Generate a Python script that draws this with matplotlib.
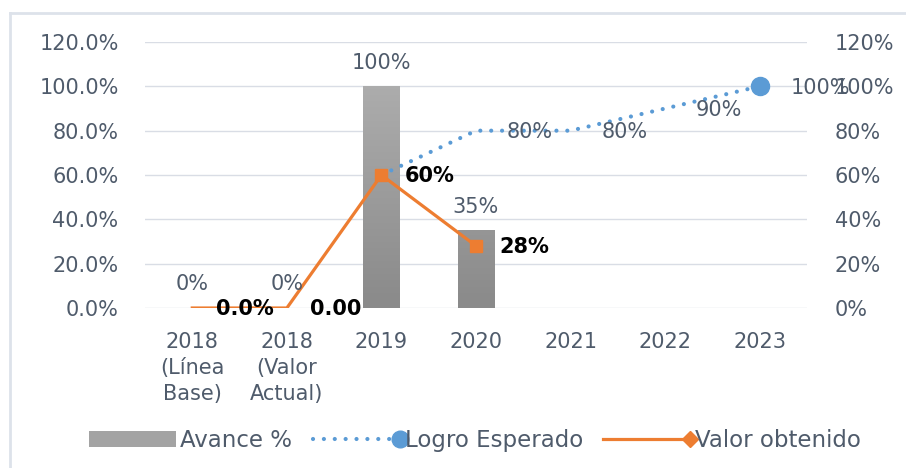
import numpy as np
import matplotlib.pyplot as plt
from matplotlib.colors import LinearSegmentedColormap
from matplotlib.legend_handler import HandlerLine2D
from matplotlib.lines import Line2D
from matplotlib.patches import Patch
from matplotlib.ticker import PercentFormatter

# data
categories = ['2018\n(Línea\nBase)', '2018\n(Valor\nActual)', '2019', '2020', '2021', '2022', '2023']
avance = [0.0, 0.0, 1.00, 0.35]
avance_labels = ['0%', '0%', '100%', '35%']
logro_idx = [2, 3, 4, 5, 6]
logro = [0.60, 0.80, 0.80, 0.90, 1.00]
logro_labels = ['', '80%', '80%', '90%', '100%']
valor = [0.0, 0.0, 0.60, 0.28]
valor_labels = ['0.0%', '0.00', '60%', '28%']

txt = '#4f5b6b'
blue = '#5b9bd5'
orange = '#ed7d31'
plt.rcParams['font.family'] = 'DejaVu Sans'
plt.rcParams['font.size'] = 15


class EndMarker(HandlerLine2D):
    # only mark the right end of the legend line
    def create_artists(self, *args, **kwargs):
        arts = super().create_artists(*args, **kwargs)
        for a in arts:
            a.set_markevery([len(a.get_xdata()) - 1])
        return arts


fig = plt.figure(figsize=(9.06, 4.68), dpi=100)
ax = fig.add_axes([145 / 906, 1 - 308 / 468, 662 / 906, 266 / 468])
ax2 = ax.twinx()

x = np.arange(len(categories))
ymax = 1.2

# bars with vertical gradient
cmap = LinearSegmentedColormap.from_list('g', ['#8a8a8a', '#b3b3b3'])
bars = ax.bar(x[:len(avance)], avance, width=0.39, color='none', zorder=2)
grad = np.linspace(0, 1, 100).reshape(-1, 1)
for b in bars:
    if b.get_height() <= 0:
        continue
    im = ax.imshow(grad, cmap=cmap, origin='lower', aspect='auto', zorder=2,
                   extent=[b.get_x(), b.get_x() + b.get_width(), 0, ymax])
    im.set_clip_path(b)
for i, v in enumerate(avance):
    ax.annotate(avance_labels[i], (x[i], v), xytext=(0, 17), textcoords='offset points',
                ha='center', va='center', color=txt, fontsize=15, zorder=5)

# logro esperado
ax.plot(x[logro_idx], logro, color=blue, lw=3, linestyle=(0, (0.01, 2.6)),
        dash_capstyle='round', zorder=3)
ax.plot(x[logro_idx[-1]], logro[-1], 'o', color=blue, ms=13, zorder=4)
for i, v, s in zip(logro_idx, logro, logro_labels):
    if s:
        ax.annotate(s, (x[i], v), xytext=(22, -1), textcoords='offset points',
                    ha='left', va='center', color=txt, fontsize=15, zorder=5)

# valor obtenido
ax.plot(x[:len(valor)], valor, color=orange, lw=2.3, zorder=4)
ax.plot(x[2:len(valor)], valor[2:], 's', color=orange, ms=8, zorder=4)
for i, v in enumerate(valor):
    ax.annotate(valor_labels[i], (x[i], v), xytext=(17, -1), textcoords='offset points',
                ha='left', va='center', color='black', fontsize=15,
                fontweight='bold', zorder=6)

for a in (ax, ax2):
    a.set_ylim(0, ymax)
    a.set_yticks(np.arange(0, 1.21, 0.2))
    for s in a.spines.values():
        s.set_visible(False)
    a.tick_params(length=0, colors=txt, labelsize=15)
ax.yaxis.set_major_formatter(PercentFormatter(1.0, decimals=1))
ax2.yaxis.set_major_formatter(PercentFormatter(1.0, decimals=0))
ax.tick_params(axis='y', pad=19)
ax2.tick_params(axis='y', pad=20)
ax.set_xlim(-0.5, len(categories) - 0.5)
ax.set_xticks(x)
ax.set_xticklabels(categories, linespacing=1.4)
ax.tick_params(axis='x', pad=17)
ax.grid(axis='y', color='#d9dde5', lw=1, zorder=0)
ax.set_axisbelow(True)

# legend
h_bar = Patch(facecolor='#a3a3a3', edgecolor='none')
h_logro = Line2D([], [], color=blue, lw=3, linestyle=(0, (0.01, 2.6)),
                 dash_capstyle='round', marker='o', ms=12)
h_valor = Line2D([], [], color=orange, lw=2.3, marker='D', ms=8)
leg = fig.legend([h_bar, h_logro, h_valor], ['Avance %', 'Logro Esperado', 'Valor obtenido'],
                 loc='center', bbox_to_anchor=(0.524, 0.058), ncol=3, frameon=False,
                 handlelength=3.8, handletextpad=0.2, columnspacing=0.9, numpoints=2,
                 handler_map={Line2D: EndMarker(marker_pad=0)}, fontsize=16.5)
for t in leg.get_texts():
    t.set_color(txt)

# outer frame
fig.add_artist(Line2D([10 / 906, 10 / 906], [0, 1 - 13 / 468], color='#dde2ea', lw=2))
fig.add_artist(Line2D([10 / 906, 1], [1 - 13 / 468, 1 - 13 / 468], color='#dde2ea', lw=2))

fig.savefig('out.png', dpi=100)
